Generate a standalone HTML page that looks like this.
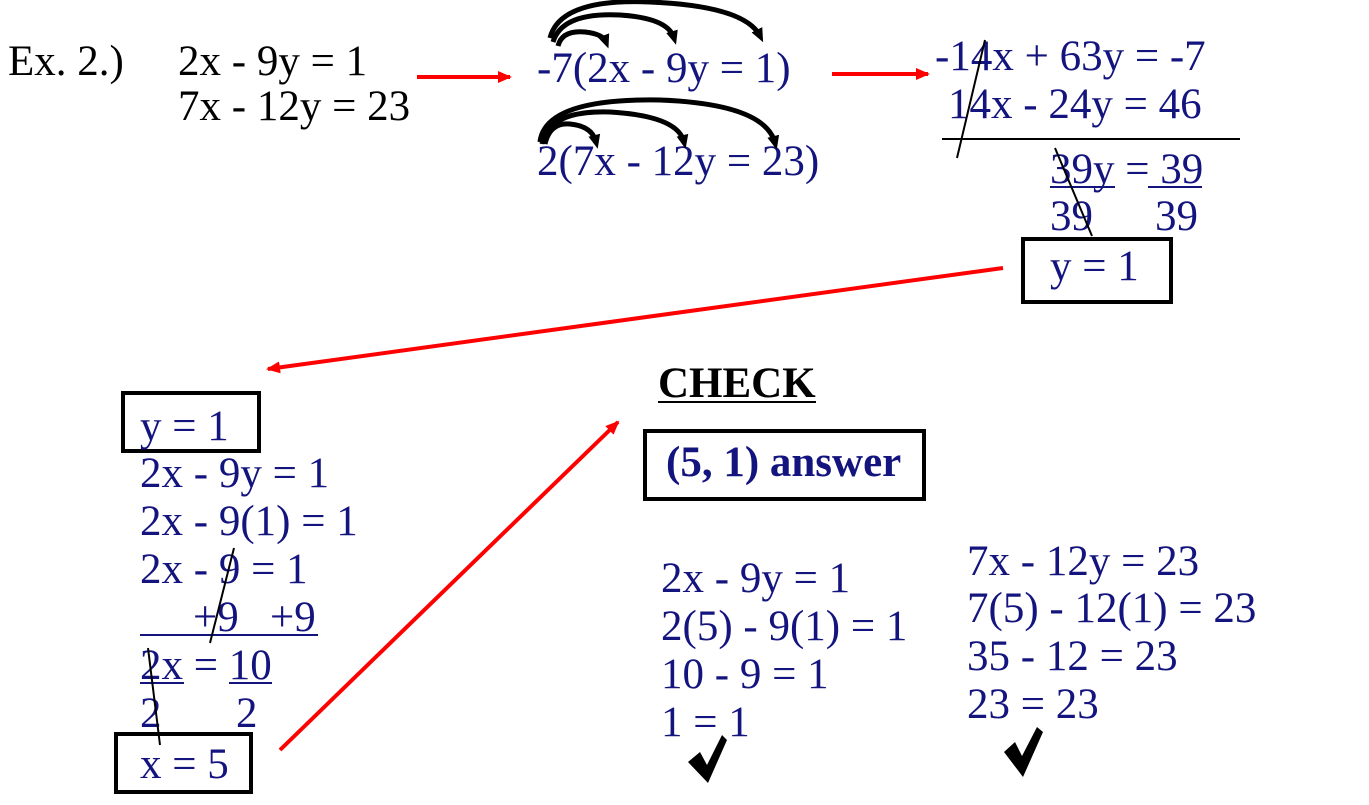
<!DOCTYPE html>
<html><head><meta charset="utf-8"><style>
html,body{margin:0;padding:0;background:#fff;}
svg{display:block;}
text{font-family:"Liberation Serif",serif;font-size:43px;fill:#14147f;}
.k{fill:#000;}
</style></head><body>
<svg width="1369" height="805" viewBox="0 0 1369 805" xmlns="http://www.w3.org/2000/svg">
<defs>
<marker id="ka" markerWidth="14" markerHeight="14" refX="7" refY="7" orient="auto" markerUnits="userSpaceOnUse" viewBox="0 0 14 14"><path d="M0,1 L14,7 L0,13z" fill="#000"/></marker>
<marker id="rb" markerWidth="14" markerHeight="12" refX="12" refY="6" orient="auto" markerUnits="userSpaceOnUse" viewBox="0 0 14 12"><path d="M0,0 L14,6 L0,12z" fill="#f00"/></marker>
</defs>
<text class="k" x="8" y="75">Ex. 2.)</text>
<text class="k" x="178" y="75">2x - 9y = 1</text>
<text class="k" x="178" y="120">7x - 12y = 23</text>
<line x1="417" y1="77" x2="510" y2="77" stroke="#f00" stroke-width="4" marker-end="url(#rb)"/>
<line x1="832" y1="74" x2="928" y2="74" stroke="#f00" stroke-width="4" marker-end="url(#rb)"/>
<text x="537" y="82">-7(2x - 9y = 1)</text>
<text x="537" y="175">2(7x - 12y = 23)</text>
<g fill="none" stroke="#000" stroke-width="5">
<path d="M550,38 Q560,-2 650,2 Q745,6 760,36" marker-end="url(#ka)"/>
<path d="M553,42 Q562,12 620,15 Q668,18 674,38" marker-end="url(#ka)"/>
<path d="M558,46 Q562,30 585,32 Q603,34 606,42" marker-end="url(#ka)"/>
<path d="M540,142 Q545,98 660,100 Q765,104 775,143" marker-end="url(#ka)"/>
<path d="M542,144 Q548,110 610,112 Q678,116 684,142" marker-end="url(#ka)"/>
<path d="M545,144 Q550,122 570,124 Q592,126 596,142" marker-end="url(#ka)"/>
</g>
<text x="935" y="70">-14x + 63y = -7</text>
<text x="948" y="118">14x - 24y = 46</text>
<line x1="942" y1="139" x2="1240" y2="139" stroke="#000" stroke-width="2"/>
<line x1="985" y1="40" x2="957" y2="158" stroke="#000" stroke-width="2"/>
<text x="1050" y="183">39y = 39</text>
<line x1="1050" y1="187" x2="1115" y2="187" stroke="#14147f" stroke-width="2"/>
<line x1="1148" y1="187" x2="1202" y2="187" stroke="#14147f" stroke-width="2"/>
<text x="1050" y="230">39</text>
<text x="1155" y="230">39</text>
<line x1="1055" y1="148" x2="1092" y2="236" stroke="#000" stroke-width="2"/>
<rect x="1023" y="239" width="148" height="63" fill="none" stroke="#000" stroke-width="4"/>
<text x="1050" y="280">y = 1</text>
<line x1="1003" y1="268" x2="268" y2="369" stroke="#f00" stroke-width="4" marker-end="url(#rb)"/>
<rect x="123" y="393" width="136" height="58" fill="none" stroke="#000" stroke-width="4"/>
<text x="140" y="440">y = 1</text>
<text x="140" y="487">2x - 9y = 1</text>
<text x="140" y="535">2x - 9(1) = 1</text>
<text x="140" y="583">2x - 9 = 1</text>
<text x="193" y="631">+9</text>
<text x="270" y="631">+9</text>
<line x1="140" y1="635" x2="318" y2="635" stroke="#14147f" stroke-width="2"/>
<line x1="234" y1="548" x2="210" y2="643" stroke="#000" stroke-width="2"/>
<text x="140" y="679">2x = 10</text>
<line x1="140" y1="683" x2="184" y2="683" stroke="#14147f" stroke-width="2"/>
<line x1="229" y1="683" x2="272" y2="683" stroke="#14147f" stroke-width="2"/>
<text x="140" y="727">2</text>
<text x="236" y="727">2</text>
<line x1="148" y1="648" x2="160" y2="745" stroke="#000" stroke-width="2"/>
<rect x="116" y="734" width="135" height="58" fill="none" stroke="#000" stroke-width="4"/>
<text x="140" y="778">x = 5</text>
<line x1="280" y1="750" x2="618" y2="422" stroke="#f00" stroke-width="4" marker-end="url(#rb)"/>
<text class="k" x="658" y="397" style="font-weight:bold">CHECK</text>
<line x1="658" y1="402" x2="816" y2="402" stroke="#000" stroke-width="2"/>
<rect x="645" y="431" width="279" height="68" fill="none" stroke="#000" stroke-width="4"/>
<text x="666" y="476" style="font-weight:bold">(5, 1) answer</text>
<text x="661" y="592">2x - 9y = 1</text>
<text x="661" y="640">2(5) - 9(1) = 1</text>
<text x="661" y="688">10 - 9 = 1</text>
<text x="661" y="736">1 = 1</text>
<text x="967" y="575">7x - 12y = 23</text>
<text x="967" y="622">7(5) - 12(1) = 23</text>
<text x="967" y="670">35 - 12 = 23</text>
<text x="967" y="718">23 = 23</text>
<path d="M688,762 L700,752 L707,765 L722,735 L727,740 L708,783 Z" fill="#000"/>
<path d="M1004,752 L1015,742 L1022,756 L1037,727 L1043,732 L1023,777 Z" fill="#000"/>
</svg>
</body></html>
